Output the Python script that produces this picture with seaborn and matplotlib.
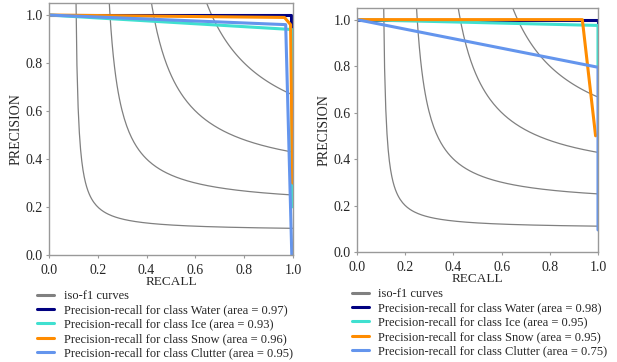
"""
Precision-recall curves with iso-f1 guides for two models, side by side.
"""

import numpy as np
import pandas as pd
import matplotlib
matplotlib.use("Agg")
import matplotlib.pyplot as plt
from matplotlib.lines import Line2D
import seaborn as sns

# Class names and colours
CLASSES = ["Water", "Ice", "Snow", "Clutter"]
COLORS = ["navy", "turquoise", "darkorange", "cornflowerblue"]

# F-scores of the iso-f1 guide curves
F_SCORES = [0.2, 0.4, 0.6, 0.8]

# Left panel
left_water_recall = [0.0, 0.99, 0.99]
left_water_prec = [1.0, 1.0, 0.94]
left_ice_recall = [0.0, 0.99, 0.995, 0.995]
left_ice_prec = [1.0, 0.94, 0.94, 0.2]
left_snow_recall = [0.0, 0.965, 0.99, 0.998]
left_snow_prec = [1.0, 0.99, 0.96, 0.3]
left_clutter_recall = [0.0, 0.97, 0.995]
left_clutter_prec = [1.0, 0.96, 0.0]
left_areas = [0.97, 0.93, 0.96, 0.95]

# Right panel
right_water_recall = [0.0, 1.0, 1.0]
right_water_prec = [1.0, 1.0, 0.98]
right_ice_recall = [0.0, 1.0, 1.0]
right_ice_prec = [1.0, 0.975, 0.8]
right_snow_recall = [0.0, 0.935, 0.99]
right_snow_prec = [1.0, 1.0, 0.5]
right_clutter_recall = [0.0, 1.0, 1.0]
right_clutter_prec = [1.0, 0.795, 0.095]
right_areas = [0.98, 0.95, 0.95, 0.75]

sns.set_style("white")
plt.rcParams["font.family"] = ["Liberation Serif", "DejaVu Serif"]
plt.rcParams["axes.edgecolor"] = "#999999"
plt.rcParams["axes.linewidth"] = 1.0


def plot_panel(ax, curves, areas):
    """Draw iso-f1 guides and the per-class precision-recall curves."""
    x = np.linspace(0.01, 1, 200)
    for f in F_SCORES:
        y = f * x / (2 * x - f)
        keep = y >= 0
        guide = pd.DataFrame({"recall": x[keep], "precision": y[keep]})
        sns.lineplot(data=guide, x="recall", y="precision", ax=ax,
                     color="gray", lw=0.9, sort=False, estimator=None)

    for (rec, prec), color in zip(curves, COLORS):
        df = pd.DataFrame({"recall": rec, "precision": prec})
        sns.lineplot(data=df, x="recall", y="precision", ax=ax,
                     color=color, lw=2.2, sort=False, estimator=None)

    ax.set_xlim(0.0, 1.0)
    ax.set_ylim(0.0, 1.05)
    ax.set_xticks([0.0, 0.2, 0.4, 0.6, 0.8, 1.0])
    ax.set_yticks([0.0, 0.2, 0.4, 0.6, 0.8, 1.0])
    ax.tick_params(labelsize=10, length=2.5, width=0.8, color="#999999",
                   left=True, bottom=True, pad=2)
    ax.tick_params(axis="x", pad=4)
    ax.set_xlabel("RECALL", fontsize=9.5, labelpad=-1)
    ax.set_ylabel("PRECISION", fontsize=10, labelpad=2)

    handles = [Line2D([], [], color="gray", lw=2.2)]
    labels = ["iso-f1 curves"]
    for name, color, area in zip(CLASSES, COLORS, areas):
        handles.append(Line2D([], [], color=color, lw=2.2))
        labels.append(f"Precision-recall for class {name} (area = {area:0.2f})")
    return handles, labels


fig = plt.figure(figsize=(6.17, 3.62), dpi=100)
ax_left = fig.add_axes([0.0794, 0.2956, 0.3955, 0.696])
ax_right = fig.add_axes([0.5786, 0.3039, 0.3906, 0.674])

left_curves = [
    (left_water_recall, left_water_prec),
    (left_ice_recall, left_ice_prec),
    (left_snow_recall, left_snow_prec),
    (left_clutter_recall, left_clutter_prec),
]
right_curves = [
    (right_water_recall, right_water_prec),
    (right_ice_recall, right_ice_prec),
    (right_snow_recall, right_snow_prec),
    (right_clutter_recall, right_clutter_prec),
]

legend_kw = dict(loc="upper left", frameon=False, fontsize=9,
                 handlelength=1.3, handletextpad=0.8, labelspacing=0.18,
                 borderpad=0)

h, l = plot_panel(ax_left, left_curves, left_areas)
fig.legend(h, l, bbox_to_anchor=(31 / 617, 1 - 284 / 362), **legend_kw)

h, l = plot_panel(ax_right, right_curves, right_areas)
fig.legend(h, l, bbox_to_anchor=(346 / 617, 1 - 282 / 362), **legend_kw)

fig.savefig("out.png", dpi=100)
